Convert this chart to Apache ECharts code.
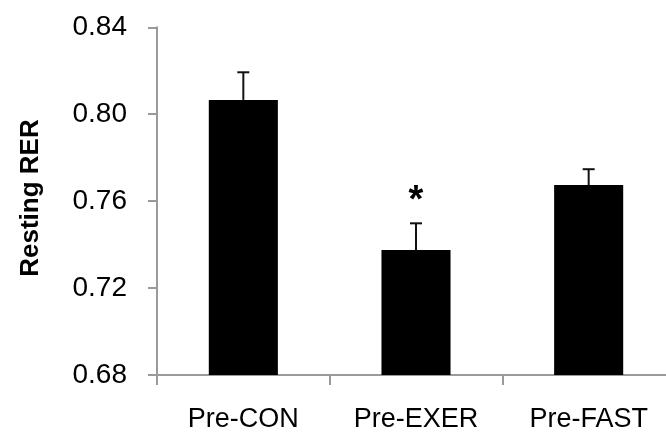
<!DOCTYPE html>
<html>
<head>
<meta charset="utf-8">
<script src="https://cdn.jsdelivr.net/npm/echarts@6/dist/echarts.min.js"></script>
<style>
html,body{margin:0;padding:0;background:#fff;}
#main{width:666px;height:435px;}
</style>
</head>
<body>
<div id="main"></div>
<script>
var categories = ['Pre-CON', 'Pre-EXER', 'Pre-FAST'];
var meanRER = [0.8066, 0.7375, 0.7674];
var upperRER = [0.8193, 0.7498, 0.7747];
var significance = ['', '*', ''];
var yTicks = [0.68, 0.72, 0.76, 0.80, 0.84];
var yTitle = 'Resting RER';

var chart = echarts.init(document.getElementById('main'), null, {renderer: 'canvas'});
var font = '"Liberation Sans", Arial, sans-serif';

var errData = categories.map(function (c, i) { return [i, meanRER[i], upperRER[i]]; });

chart.setOption({
  animation: false,
  backgroundColor: '#ffffff',
  grid: {left: 157, top: 27.3, width: 518, bottom: 60, containLabel: false, outerBoundsMode: 'none'},
  graphic: [{
    type: 'text',
    x: 31, y: 198,
    rotation: Math.PI / 2,
    style: {
      text: yTitle,
      font: 'bold 26px ' + font,
      fill: '#000',
      align: 'center',
      verticalAlign: 'middle'
    }
  }],
  xAxis: {
    type: 'category',
    data: categories,
    boundaryGap: true,
    axisLine: {lineStyle: {color: '#9a9a9a', width: 2}},
    axisTick: {show: true, length: 10, alignWithLabel: false, lineStyle: {color: '#9a9a9a', width: 2}},
    axisLabel: {color: '#000', fontSize: 27, fontFamily: font, margin: 31}
  },
  yAxis: {
    type: 'value',
    min: yTicks[0],
    max: yTicks[yTicks.length - 1],
    interval: 0.04,
    splitLine: {show: false},
    axisLine: {show: true, lineStyle: {color: '#9a9a9a', width: 2}},
    axisTick: {show: true, length: 9, lineStyle: {color: '#9a9a9a', width: 2}},
    axisLabel: {
      color: '#000', fontSize: 28, fontFamily: font, margin: 30,
      formatter: function (v) { return v.toFixed(2); }
    }
  },
  series: [{
    type: 'bar',
    data: meanRER,
    barWidth: '40%',
    itemStyle: {color: '#000'},
    z: 2
  }, {
    type: 'custom',
    data: errData,
    z: 3,
    renderItem: function (params, api) {
      var i = api.value(0);
      var base = api.coord([i, api.value(1)]);
      var top = api.coord([i, api.value(2)]);
      var hw = 6;
      var children = [
        {type: 'line', shape: {x1: base[0], y1: base[1], x2: top[0], y2: top[1]}, style: {stroke: '#111', lineWidth: 2}},
        {type: 'line', shape: {x1: top[0] - hw, y1: top[1], x2: top[0] + hw, y2: top[1]}, style: {stroke: '#111', lineWidth: 2}}
      ];
      var s = significance[params.dataIndex];
      if (s) {
        children.push({type: 'text', x: top[0], y: top[1] - 22,
          style: {text: s, font: 'bold 38px ' + font, fill: '#000', align: 'center', verticalAlign: 'middle'}});
      }
      return {type: 'group', children: children};
    }
  }]
});
</script>
</body>
</html>
